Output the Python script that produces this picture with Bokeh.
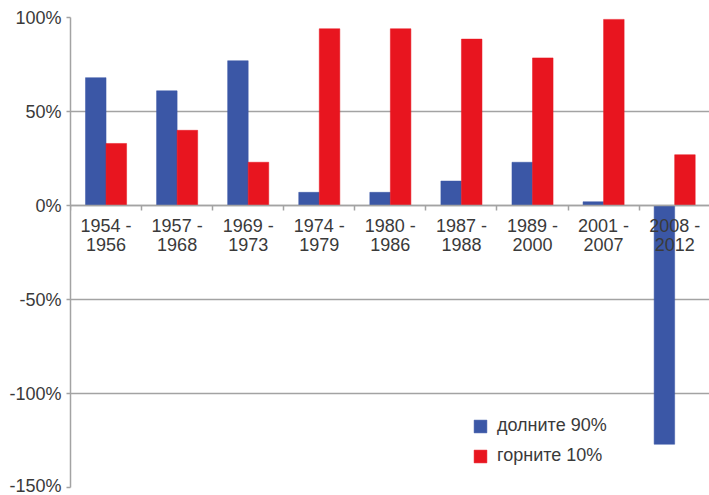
from bokeh.plotting import figure
from bokeh.models import Range1d, FixedTicker, Legend, LegendItem, ColumnDataSource
from bokeh.transform import dodge
from bokeh.embed import file_html
from bokeh.resources import INLINE

# ---- data ----
periods = ["1954 -\n1956", "1957 -\n1968", "1969 -\n1973", "1974 -\n1979", "1980 -\n1986",
           "1987 -\n1988", "1989 -\n2000", "2001 -\n2007", "2008 -\n2012"]
bottom90 = [68, 61, 77, 7, 7, 13, 23, 2, -127]
top10 = [33, 40, 23, 94, 94, 88.5, 78.5, 99, 27]
series_names = ["долните 90%", "горните 10%"]
y_ticks = [-150, -100, -50, 0, 50, 100]
y_tick_labels = ["-150%", "-100%", "-50%", "0%", "50%", "100%"]

BLUE = "#3b57a6"
RED = "#e8151f"
GRID = "#a3a3a3"
TEXT = "#3a3a3a"
FONT = "Liberation Sans"

n = len(periods)
centers = [i + 0.5 for i in range(n)]
bounds = [float(i) for i in range(n + 1)]

src = ColumnDataSource(dict(x=centers, b=bottom90, t=top10))

p = figure(width=709, height=495, output_backend="svg", toolbar_location=None,
           x_range=Range1d(0, 8.99), y_range=Range1d(-150, 100),
           min_border_left=70, min_border_top=17, min_border_bottom=8, min_border_right=0)
p.outline_line_color = None
p.background_fill_color = "white"

rb = p.vbar(x=dodge("x", -0.1445, range=p.x_range), top="b", width=0.289, source=src,
            fill_color=BLUE, line_color=BLUE, line_width=0.5)
rt = p.vbar(x=dodge("x", 0.1445, range=p.x_range), top="t", width=0.289, source=src,
            fill_color=RED, line_color=RED, line_width=0.5)

# y axis
p.yaxis.ticker = FixedTicker(ticks=y_ticks, minor_ticks=[])
p.yaxis.major_label_overrides = {t: l for t, l in zip(y_ticks, y_tick_labels)}
p.yaxis.axis_line_color = GRID
p.yaxis.axis_line_width = 1.5
p.yaxis.major_tick_line_color = GRID
p.yaxis.major_tick_line_width = 1.5
p.yaxis.major_tick_out = 4
p.yaxis.major_tick_in = 0
p.yaxis.minor_tick_line_color = None
p.yaxis.major_label_standoff = 5
p.yaxis.major_label_text_font = FONT
p.yaxis.major_label_text_font_size = "18px"
p.yaxis.major_label_text_color = TEXT

# x axis crossing at zero
p.xaxis.fixed_location = 0
p.xaxis.ticker = FixedTicker(ticks=centers, minor_ticks=bounds)
p.xaxis.major_label_overrides = {c: l for c, l in zip(centers, periods)}
p.xaxis.axis_line_color = GRID
p.xaxis.axis_line_width = 1.5
p.xaxis.major_tick_line_color = None
p.xaxis.major_tick_out = 0
p.xaxis.major_tick_in = 0
p.xaxis.minor_tick_line_color = GRID
p.xaxis.minor_tick_line_width = 1.5
p.xaxis.minor_tick_out = 5
p.xaxis.minor_tick_in = 0
p.xaxis.major_label_standoff = 5
p.xaxis.major_label_text_font = FONT
p.xaxis.major_label_text_font_size = "18px"
p.xaxis.major_label_text_color = TEXT
p.xaxis.major_label_text_line_height = 0.95

p.xgrid.visible = False
p.ygrid.ticker = FixedTicker(ticks=y_ticks, minor_ticks=[])
p.ygrid.grid_line_color = GRID
p.ygrid.grid_line_width = 1.5

legend = Legend(items=[LegendItem(label=series_names[0], renderers=[rb]),
                       LegendItem(label=series_names[1], renderers=[rt])],
                location=(402, 21), orientation="vertical",
                glyph_width=16, glyph_height=16, label_height=16, spacing=9,
                padding=0, margin=0, label_standoff=9,
                label_text_font=FONT, label_text_font_size="18px", label_text_color=TEXT,
                border_line_color=None, background_fill_alpha=0)
p.add_layout(legend)

open("out.html", "w").write(file_html(p, INLINE))
